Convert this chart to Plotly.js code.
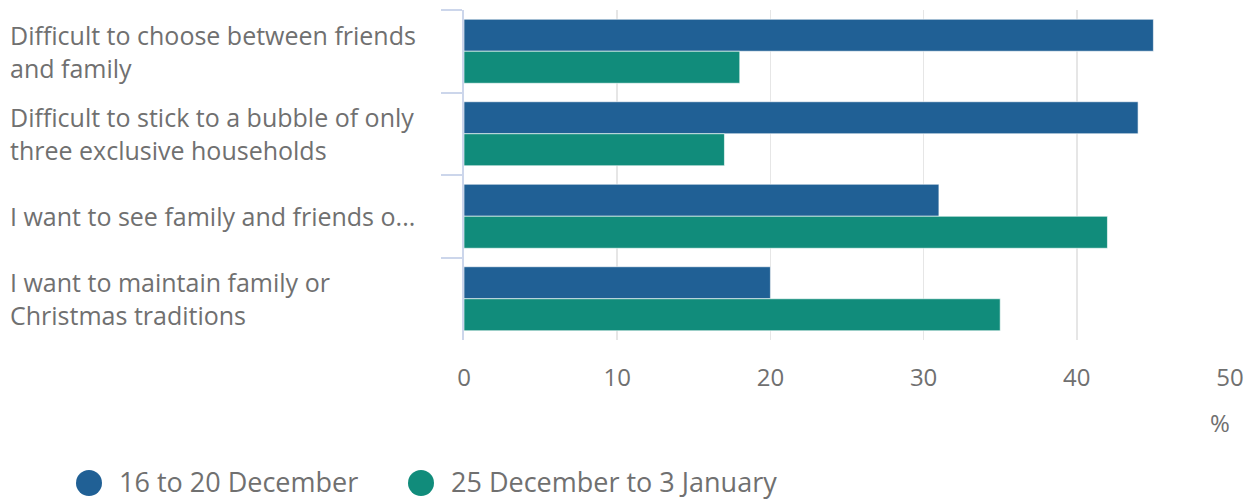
<!DOCTYPE html>
<html>
<head>
<meta charset="utf-8">
<script src="https://cdn.plot.ly/plotly-3.0.1.min.js"></script>
<style>html,body{margin:0;padding:0;background:#fff;}#chart{width:1255px;height:499px;}</style>
</head>
<body>
<div id="chart"></div>
<script>
// Data
const categories = [
  "Difficult to choose between friends and family",
  "Difficult to stick to a bubble of only three exclusive households",
  "I want to see family and friends o...",
  "I want to maintain family or Christmas traditions"
];
const categoryLabels = [
  "Difficult to choose between friends<br>and family",
  "Difficult to stick to a bubble of only<br>three exclusive households",
  "I want to see family and friends o...",
  "I want to maintain family or<br>Christmas traditions"
];
const seriesNames = ["16 to 20 December", "25 December to 3 January"];
const series1 = [45, 44, 31, 20];
const series2 = [18, 17, 42, 35];
const xTickValues = [0, 10, 20, 30, 40, 50];
const unitLabel = "%";

const colors = ["#206095", "#118c7b"];
const textColor = "#707070";
const font = "'Open Sans', 'Noto Sans', sans-serif";

const plotLeft = 464, plotRight = 1230, plotTop = 10, plotBottom = 340;
const pw = plotRight - plotLeft, ph = plotBottom - plotTop;
const px = v => (v - plotLeft) / pw;
const py = v => (plotBottom - v) / ph;

const traces = [series1, series2].map((vals, i) => ({
  type: "bar",
  orientation: "h",
  x: vals,
  y: categories,
  name: seriesNames[i],
  marker: { color: colors[i], line: { color: "rgba(255,255,255,0.6)", width: 1 } },
  hoverinfo: "x+name",
  showlegend: false
}));

const annotations = categories.map((c, i) => ({
  xref: "paper", yref: "y",
  x: px(8), y: c,
  xanchor: "left", yanchor: "middle", align: "left",
  text: categoryLabels[i], showarrow: false,
  font: { family: font, size: 25, color: textColor }
}));

annotations.push({
  xref: "paper", yref: "paper", x: px(1220), y: py(422),
  xanchor: "center", yanchor: "middle", text: unitLabel, showarrow: false,
  font: { family: font, size: 24, color: textColor }
});

const legendX = [89, 421];
const shapes = [];
seriesNames.forEach((n, i) => {
  shapes.push({
    type: "circle", xref: "paper", yref: "paper",
    xsizemode: "pixel", ysizemode: "pixel",
    xanchor: px(legendX[i]), yanchor: py(483),
    x0: -13, x1: 13, y0: -13, y1: 13,
    fillcolor: colors[i], line: { width: 0 }
  });
  annotations.push({
    xref: "paper", yref: "paper", x: px(legendX[i] + 29), y: py(482),
    xanchor: "left", yanchor: "middle", text: n, showarrow: false, borderpad: 0,
    font: { family: font, size: 27, color: textColor }
  });
});

const layout = {
  width: 1255, height: 499,
  margin: { l: plotLeft, r: 1255 - plotRight, t: plotTop, b: 499 - plotBottom, pad: 0 },
  paper_bgcolor: "#fff", plot_bgcolor: "#fff",
  barmode: "group", bargap: 0.224, bargroupgap: 0,
  showlegend: false,
  font: { family: font, color: textColor },
  xaxis: {
    range: [0, 50], tickvals: xTickValues, ticktext: xTickValues.map(String),
    showgrid: true, gridcolor: "#e6e6e6", gridwidth: 1.5,
    zeroline: false, showline: false, ticks: "",
    ticklabelstandoff: 21,
    tickfont: { family: font, size: 24, color: textColor },
    fixedrange: true
  },
  yaxis: {
    type: "category", autorange: "reversed",
    showticklabels: false, showgrid: false, zeroline: false,
    showline: true, linecolor: "#ccd6eb", linewidth: 2,
    ticks: "outside", tickson: "boundaries", ticklen: 21, tickwidth: 2, tickcolor: "#ccd6eb",
    fixedrange: true
  },
  annotations: annotations,
  shapes: shapes
};

Plotly.newPlot("chart", traces, layout, { displayModeBar: false, staticPlot: true });
</script>
</body>
</html>
